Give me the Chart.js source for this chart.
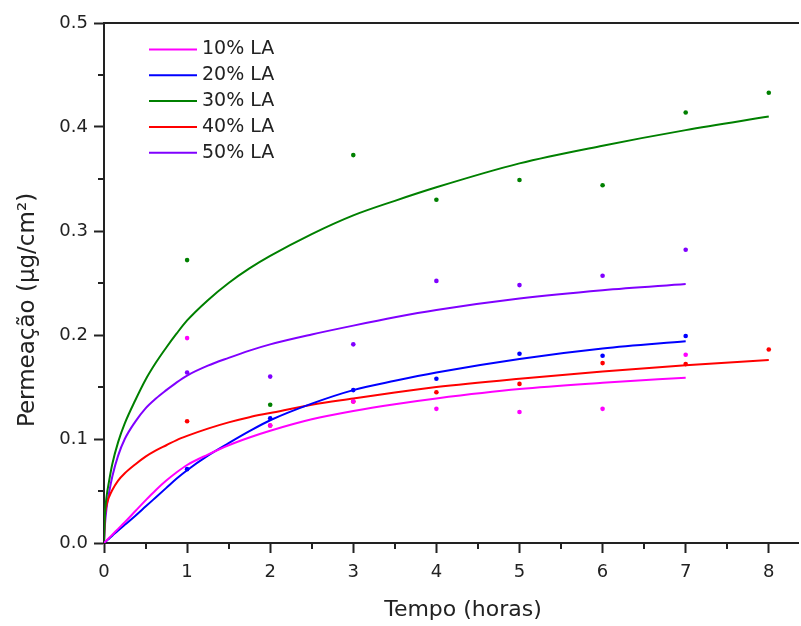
<!DOCTYPE html>
<html>
<head>
<meta charset="utf-8">
<script src="https://cdn.jsdelivr.net/npm/chart.js@4"></script>
<style>
  html, body { margin: 0; padding: 0; background: #fff; }
</style>
</head>
<body>
<canvas id="permeation" width="801" height="626"></canvas>
<script>
const seriesLabels = ['10% LA', '20% LA', '30% LA', '40% LA', '50% LA'];
const seriesColors = ['#ff00ff', '#0000ff', '#008000', '#ff0000', '#8000ff'];

// measured permeation (µg/cm²), one sample per hour
const hours = [1, 2, 3, 4, 5, 6, 7, 8];
const la10 = [0.197, 0.113, 0.136, 0.129, 0.126, 0.129, 0.181];
const la20 = [0.071, 0.120, 0.147, 0.158, 0.182, 0.180, 0.199];
const la30 = [0.272, 0.133, 0.373, 0.330, 0.349, 0.344, 0.414, 0.433];
const la40 = [0.117, 0.113, 0.136, 0.145, 0.153, 0.173, 0.172, 0.186];
const la50 = [0.164, 0.160, 0.191, 0.252, 0.248, 0.257, 0.282];

// fitted curves, denser near t = 0 where they bend hardest
const fitHours = [0, 0.01, 0.03, 0.06, 0.1, 0.17, 0.25, 0.375, 0.5, 0.625, 0.75, 0.875, 1,
                  1.25, 1.5, 1.75, 2, 2.5, 3, 3.5, 4, 5, 6, 7, 8];
const fit10 = [0, 0.0008, 0.0024, 0.0048, 0.008, 0.0136, 0.020, 0.0305, 0.041, 0.051, 0.060, 0.068, 0.075,
               0.085, 0.094, 0.1015, 0.108, 0.119, 0.127, 0.1335, 0.139, 0.148, 0.154, 0.159];
const fit20 = [0, 0.0007, 0.002, 0.0042, 0.007, 0.012, 0.0175, 0.026, 0.035, 0.044, 0.053, 0.062, 0.070,
               0.084, 0.096, 0.1075, 0.118, 0.134, 0.147, 0.156, 0.164, 0.177, 0.187, 0.194];
const fit30 = [0, 0.026, 0.044, 0.059, 0.076, 0.097, 0.115, 0.137, 0.157, 0.1735, 0.188, 0.2015, 0.214,
               0.2335, 0.250, 0.264, 0.276, 0.297, 0.315, 0.329, 0.342, 0.365, 0.382, 0.397, 0.410];
const fit40 = [0, 0.024, 0.036, 0.044, 0.051, 0.060, 0.067, 0.0755, 0.083, 0.089, 0.094, 0.099, 0.103,
               0.110, 0.116, 0.121, 0.125, 0.133, 0.139, 0.1448, 0.150, 0.158, 0.165, 0.171, 0.176];
const fit50 = [0, 0.016, 0.033, 0.048, 0.064, 0.084, 0.100, 0.1165, 0.1295, 0.139, 0.147, 0.1545, 0.161,
               0.1705, 0.178, 0.185, 0.191, 0.2005, 0.209, 0.217, 0.224, 0.235, 0.243, 0.249];

const minorX = [0.5, 1.5, 2.5, 3.5, 4.5, 5.5, 6.5, 7.5];
const minorY = [0.05, 0.15, 0.25, 0.35, 0.45];

const measured = [la10, la20, la30, la40, la50];
const fitted = [fit10, fit20, fit30, fit40, fit50];

const FONT = '"DejaVu Sans", sans-serif';
const INK = '#222';

const datasets = [];
seriesLabels.forEach((label, i) => {
    datasets.push({
        label: label,
        data: measured[i].map((v, j) => ({ x: hours[j], y: v })),
        showLine: false,
        pointRadius: 2.3,
        pointHoverRadius: 2.3,
        pointBorderWidth: 0,
        backgroundColor: seriesColors[i],
        borderColor: seriesColors[i],
        order: 0
    });
    datasets.push({
        label: label,
        fit: true,
        data: fitted[i].map((v, j) => ({ x: fitHours[j], y: v })),
        showLine: true,
        pointRadius: 0,
        borderWidth: 2,
        borderColor: seriesColors[i],
        backgroundColor: seriesColors[i],
        cubicInterpolationMode: 'monotone',
        order: 1
    });
});

// minor ticks, axis titles and the inset legend
const decor = {
    id: 'decor',
    afterDraw(chart) {
        const ctx = chart.ctx;
        const x = chart.scales.x;
        const y = chart.scales.y;
        ctx.save();
        ctx.strokeStyle = INK;
        ctx.lineWidth = 2;
        ctx.beginPath();
        minorX.forEach(v => {
            const px = Math.round(x.getPixelForValue(v));
            ctx.moveTo(px, x.top);
            ctx.lineTo(px, x.top + 6);
        });
        minorY.forEach(v => {
            const py = Math.round(y.getPixelForValue(v));
            ctx.moveTo(y.right, py);
            ctx.lineTo(y.right - 6, py);
        });
        ctx.stroke();

        ctx.fillStyle = INK;
        ctx.textAlign = 'center';
        ctx.textBaseline = 'middle';
        ctx.font = '22px ' + FONT;
        ctx.fillText('Tempo (horas)', 463, 610);
        ctx.save();
        ctx.translate(28, 310);
        ctx.rotate(-Math.PI / 2);
        ctx.font = '23px ' + FONT;
        ctx.fillText('Permeação (μg/cm²)', 0, 0);
        ctx.restore();

        ctx.textAlign = 'left';
        ctx.font = '19px ' + FONT;
        chart.data.datasets.filter(d => d.fit).forEach((d, i) => {
            const ly = 49.5 + i * 25.8;
            ctx.strokeStyle = d.borderColor;
            ctx.beginPath();
            ctx.moveTo(149, ly);
            ctx.lineTo(197, ly);
            ctx.stroke();
            ctx.fillStyle = INK;
            ctx.fillText(d.label, 202, ly);
        });
        ctx.restore();
    }
};

const axisGrid = {
    drawOnChartArea: false,
    drawTicks: true,
    tickLength: 10,
    tickWidth: 2,
    tickColor: INK
};

new Chart(document.getElementById('permeation'), {
    type: 'scatter',
    data: { datasets: datasets },
    options: {
        responsive: false,
        animation: false,
        layout: { padding: 0 },
        plugins: {
            legend: { display: false },
            tooltip: { enabled: false }
        },
        scales: {
            x: {
                type: 'linear',
                position: 'bottom',
                min: 0,
                max: 8.36,
                grid: axisGrid,
                border: { color: INK, width: 2 },
                ticks: {
                    stepSize: 1,
                    includeBounds: false,
                    maxRotation: 0,
                    padding: 9,
                    color: INK,
                    font: { family: FONT, size: 18 },
                    callback: v => Number.isInteger(v) ? String(v) : ''
                },
                afterFit: s => { s.height = 83; }
            },
            xTop: {
                type: 'linear',
                position: 'top',
                min: 0,
                max: 8.36,
                grid: { drawOnChartArea: false, drawTicks: false },
                border: { color: INK, width: 2 },
                ticks: { display: false },
                afterFit: s => { s.height = 23; }
            },
            y: {
                type: 'linear',
                min: 0,
                max: 0.5,
                grid: axisGrid,
                border: { color: INK, width: 2 },
                ticks: {
                    stepSize: 0.1,
                    padding: 6,
                    color: INK,
                    font: { family: FONT, size: 18 },
                    callback: v => v.toFixed(1)
                },
                afterFit: s => { s.width = 104; }
            }
        }
    },
    plugins: [decor]
});
</script>
</body>
</html>
